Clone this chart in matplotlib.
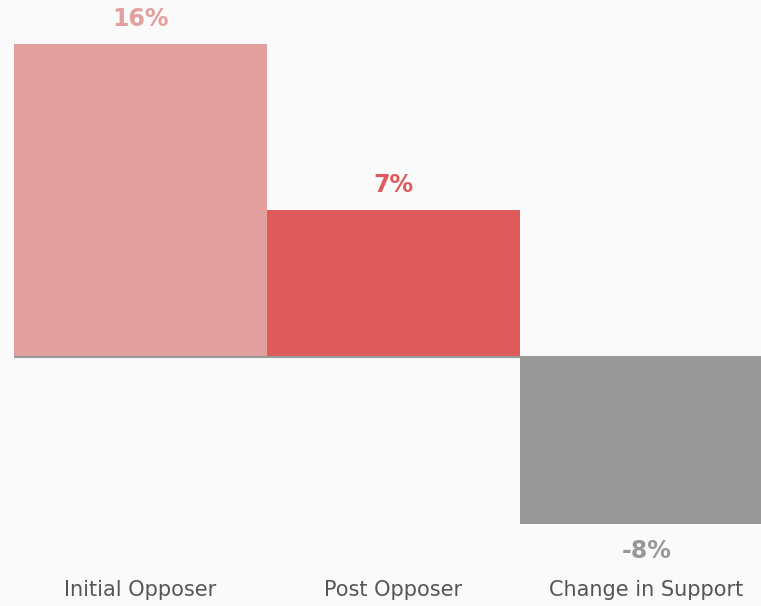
import matplotlib
matplotlib.use('Agg')
import matplotlib.pyplot as plt

categories = ['Initial Opposer', 'Post Opposer', 'Change in Support']
values = [15.8, 7.4, -8.45]
value_labels = ['16%', '7%', '-8%']
colors = ['#e39e9e', '#df5b5b', '#989898']

fig = plt.figure(figsize=(7.61, 6.06), dpi=100, facecolor='#fafafa')
ax = fig.add_axes([14 / 761, 0, 747 / 761, 1])
ax.set_facecolor('#fafafa')

x = range(len(categories))
ax.bar(x, values, width=1.0, color=colors, zorder=2)
ax.axhline(0, color='#999999', linewidth=1.5, zorder=3)

ax.set_xlim(-0.5, 2.5 - 12 / 253)
ax.set_ylim(-12.57, 18.02)

for i, (v, lab, c) in enumerate(zip(values, value_labels, colors)):
    if v >= 0:
        ax.text(i, v + 1.27, lab, ha='center', va='center', fontsize=17,
                fontweight='bold', color=c)
    else:
        ax.text(i, v - 1.36, lab, ha='center', va='center', fontsize=17,
                fontweight='bold', color=c)
    ax.text(i, -11.75, categories[i], ha='center', va='center', fontsize=15,
            color='#555555')

ax.axis('off')
fig.savefig('out.png', dpi=100, facecolor='#fafafa')
